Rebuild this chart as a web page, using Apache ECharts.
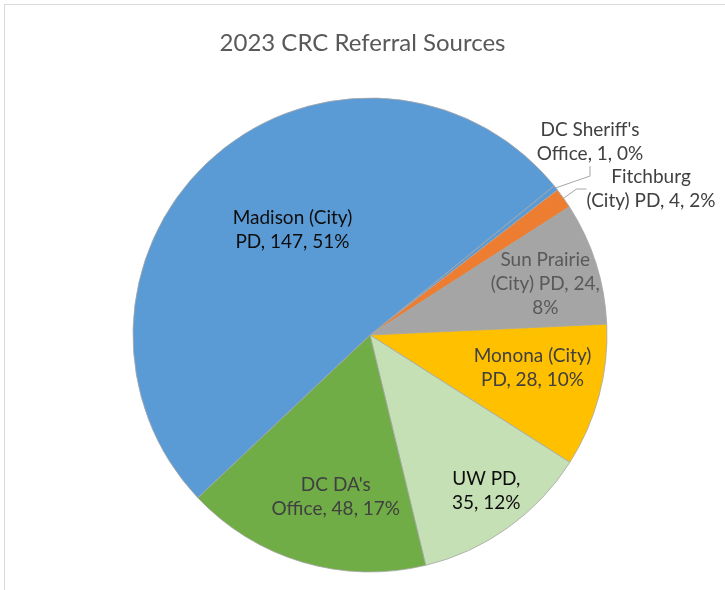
<!DOCTYPE html>
<html>
<head>
<meta charset="utf-8">
<script src="https://cdn.jsdelivr.net/npm/echarts@6/dist/echarts.min.js"></script>
<style>
  html, body { margin: 0; padding: 0; background: #fff; }
  #frame { position: absolute; left: 4px; top: 4px; width: 760px; height: 620px; border: 1px solid #d9d9d9; }
  #main { position: absolute; left: 0; top: 0; width: 725px; height: 590px; }
</style>
</head>
<body>
<div id="frame"></div>
<div id="main"></div>
<script>
// 数据（顺时针，从右上角开始）
var categories = ["DC Sheriff's Office", 'Fitchburg (City) PD', 'Sun Prairie (City) PD', 'Monona (City) PD', 'UW PD', "DC DA's Office", 'Madison (City) PD'];
var values = [1, 4, 24, 28, 35, 48, 147];
var colors = ['#5b9bd5', '#ed7d31', '#a5a5a5', '#ffc000', '#c5e0b4', '#70ad47', '#5b9bd5'];
var textColors = ['#404040', '#404040', '#595959', '#404040', '#0d0d0d', '#404040', '#0d0d0d'];
// 每行的词数（标签换行）
var wordsPerLine = [[2, 3], [1, 4], [2, 3, 1], [2, 3], [2, 2], [2, 3], [2, 3]];

var R = 237;
var CX = 370, CY = 335;
var START = 39;
// 内部标签：[半径比例, 角度微调]
var labelPolar = [null, null, [0.77, -1.5], [0.70, 3.4], [0.82, 1.2], [0.70, 4.6], [0.55, -4.7]];

var total = values.reduce(function (a, b) { return a + b; }, 0);
function midAngle(i) {
  var before = 0;
  for (var k = 0; k < i; k++) before += values[k];
  return START - (before + values[i] / 2) / total * 360;
}

var myChart = echarts.init(document.getElementById('main'), null, { renderer: 'canvas' });

var option = {
  title: {
    text: '2023 CRC Referral Sources',
    left: 'center',
    top: 26,
    textStyle: { fontFamily: 'Lato', fontSize: 24, fontWeight: 'normal', color: '#595959' }
  },
  series: [{
    type: 'pie',
    center: [CX, CY],
    radius: R,
    startAngle: START,
    clockwise: true,
    percentPrecision: 0,
    avoidLabelOverlap: false,
    animation: false,
    itemStyle: { borderColor: '#a6a6a6', borderWidth: 0.8 },
    label: {
      position: 'inside',
      fontFamily: 'Lato',
      fontSize: 19,
      lineHeight: 24,
      align: 'center',
      formatter: function (p) {
        var words = (p.name + ', ' + p.value + ', ' + p.percent + '%').split(' ');
        var lines = [], idx = 0;
        wordsPerLine[p.dataIndex].forEach(function (n) {
          lines.push(words.slice(idx, idx + n).join(' '));
          idx += n;
        });
        return lines.join('\n');
      }
    },
    labelLine: { show: false },
    labelLayout: function (p) {
      var i = p.dataIndex;
      if (i === 0) return { x: 590, y: 142, align: 'center', verticalAlign: 'middle' };
      if (i === 1) return { x: 651, y: 189, align: 'center', verticalAlign: 'middle' };
      var lp = labelPolar[i];
      var a = (midAngle(i) + lp[1]) * Math.PI / 180;
      return {
        x: CX + lp[0] * R * Math.cos(a),
        y: CY - lp[0] * R * Math.sin(a),
        align: 'center',
        verticalAlign: 'middle'
      };
    },
    data: categories.map(function (c, i) {
      var item = {
        name: c,
        value: values[i],
        itemStyle: { color: colors[i] },
        label: { color: textColors[i] }
      };
      if (i < 2) {
        item.label.position = 'outside';
        item.labelLine = { show: true, length: 15, length2: 10, lineStyle: { color: '#a6a6a6', width: 1 } };
      }
      return item;
    })
  }]
};

myChart.setOption(option);
</script>
</body>
</html>
